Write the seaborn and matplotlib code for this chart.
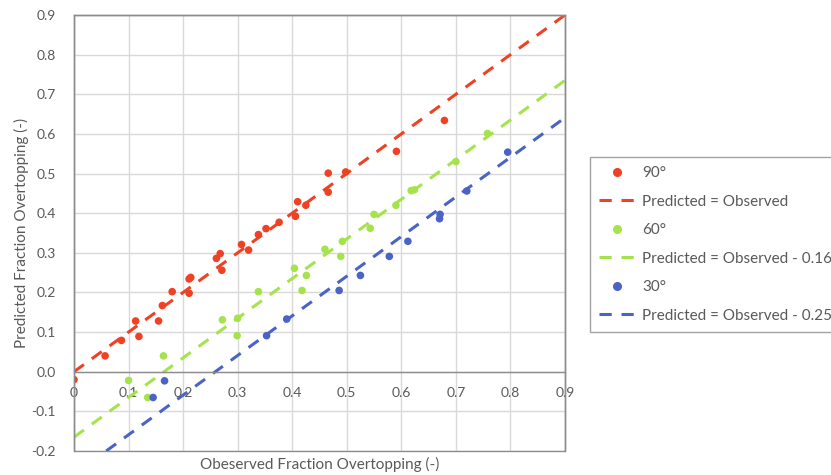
import matplotlib
matplotlib.use("Agg")
import matplotlib.pyplot as plt
from matplotlib.lines import Line2D
from matplotlib.patches import Rectangle
import numpy as np
import pandas as pd
import seaborn as sns

# Observed vs predicted overtopping fractions, by wall angle
obs_90 = [0.0, 0.057, 0.087, 0.113, 0.119, 0.155, 0.162, 0.180, 0.211, 0.211,
          0.214, 0.261, 0.268, 0.271, 0.307, 0.320, 0.338, 0.352, 0.376, 0.406,
          0.410, 0.425, 0.466, 0.466, 0.498, 0.591, 0.679]
pred_90 = [-0.02, 0.040, 0.079, 0.128, 0.089, 0.128, 0.167, 0.202, 0.198, 0.234,
           0.238, 0.286, 0.298, 0.256, 0.321, 0.307, 0.346, 0.361, 0.377, 0.392,
           0.429, 0.420, 0.453, 0.501, 0.504, 0.556, 0.634]

obs_60 = [0.100, 0.135, 0.164, 0.272, 0.300, 0.299, 0.338, 0.404, 0.426, 0.418,
          0.460, 0.489, 0.492, 0.543, 0.550, 0.590, 0.618, 0.624, 0.700, 0.758]
pred_60 = [-0.022, -0.065, 0.040, 0.131, 0.135, 0.091, 0.202, 0.261, 0.243, 0.205,
           0.309, 0.291, 0.329, 0.362, 0.397, 0.420, 0.457, 0.459, 0.530, 0.601]

obs_30 = [0.145, 0.166, 0.353, 0.390, 0.486, 0.525, 0.578, 0.612, 0.670, 0.671,
          0.720, 0.795]
pred_30 = [-0.065, -0.023, 0.091, 0.133, 0.205, 0.243, 0.291, 0.329, 0.386, 0.397,
           0.456, 0.554]

groups = ["90°", "60°", "30°"]
offsets = [0.0, 0.165, 0.259]
fit_labels = ["Predicted = Observed",
              "Predicted = Observed - 0.165",
              "Predicted = Observed - 0.259"]
colors = ["#EF4123", "#A5E34D", "#4A63C6"]

x_ticks = [0, 0.1, 0.2, 0.3, 0.4, 0.5, 0.6, 0.7, 0.8, 0.9]
x_tick_labels = ["0", "0.1", "0.2", "0.3", "0.4", "0.5", "0.6", "0.7", "0.8", "0.9"]
y_ticks = [-0.2, -0.1, 0.0, 0.1, 0.2, 0.3, 0.4, 0.5, 0.6, 0.7, 0.8, 0.9]
y_tick_labels = ["-0.2", "-0.1", "0.0", "0.1", "0.2", "0.3", "0.4", "0.5",
                 "0.6", "0.7", "0.8", "0.9"]

sns.set_theme(style="white")
plt.rcParams["font.family"] = ["Lato", "DejaVu Sans"]

text_color = "#595959"
frame_color = "#8C8C8C"
grid_color = "#D9D9D9"

fig = plt.figure(figsize=(8.31, 4.75), dpi=100)
ax = fig.add_axes([74 / 831, 1 - 451 / 475, (565 - 74) / 831, (451 - 15) / 475])

x_min, x_max = 0.0, 0.9
y_min, y_max = -0.2, 0.9

handles = []
point_sets = [(obs_90, pred_90), (obs_60, pred_60), (obs_30, pred_30)]
for (obs, pred), name, off, flabel, col in zip(point_sets, groups, offsets,
                                                fit_labels, colors):
    df = pd.DataFrame({"observed": obs, "predicted": pred})
    # fitted line, trimmed to the visible y range
    x0 = max(x_min, y_min + off)
    line_df = pd.DataFrame({"observed": [x0, x_max],
                            "predicted": [x0 - off, x_max - off]})
    sns.lineplot(data=line_df, x="observed", y="predicted", ax=ax, color=col,
                 lw=2.2, dashes=False, zorder=2)
    ax.lines[-1].set_dashes((4.0, 3.2))
    sns.scatterplot(data=df, x="observed", y="predicted", ax=ax, color=col,
                    s=30, edgecolor="none", zorder=3)
    handles.append(Line2D([], [], ls="none", marker="o", ms=5.5, color=col,
                          label=name))
    handles.append(Line2D([], [], lw=2.2, ls=(0, (4.0, 3.2)), color=col,
                          label=flabel))

ax.set_xlim(x_min, x_max)
ax.set_ylim(y_min, y_max)
ax.set_xticks(x_ticks)
ax.set_xticklabels(x_tick_labels)
ax.set_yticks(y_ticks)
ax.set_yticklabels(y_tick_labels)
ax.grid(True, color=grid_color, lw=1.0, zorder=0)
ax.set_axisbelow(True)

# x axis crosses at y = 0; outer box drawn separately
for side in ["top", "right", "left"]:
    ax.spines[side].set_color(frame_color)
    ax.spines[side].set_linewidth(1.0)
ax.spines["bottom"].set_position(("data", 0))
ax.spines["bottom"].set_color(frame_color)
ax.spines["bottom"].set_linewidth(1.0)
ax.add_patch(Rectangle((0, 0), 1, 1, transform=ax.transAxes, fill=False,
                       ec=frame_color, lw=1.0, clip_on=False, zorder=5))

ax.tick_params(axis="both", length=0, labelsize=10, colors=text_color)
ax.tick_params(axis="y", pad=13)
ax.tick_params(axis="x", pad=11)

ax.set_xlabel("Obeserved Fraction Overtopping (-)", fontsize=11, color=text_color)
ax.set_ylabel("Predicted Fraction Overtopping (-)", fontsize=11, color=text_color)
ax.xaxis.label.set_va("center")
ax.xaxis.set_label_coords(0.5, -0.032)
ax.yaxis.set_label_coords(-0.092, 0.5)

leg = fig.legend(handles=handles, loc="upper left",
                 bbox_to_anchor=(590 / 831, 1 - 157 / 475),
                 bbox_transform=fig.transFigure, borderaxespad=0,
                 frameon=True, fancybox=False, fontsize=11,
                 handlelength=2.35, handletextpad=0.45, labelspacing=0.95,
                 borderpad=0.6)
leg.get_frame().set_edgecolor(frame_color)
leg.get_frame().set_linewidth(1.0)
for t in leg.get_texts():
    t.set_color(text_color)

fig.savefig("out.png", dpi=100)
